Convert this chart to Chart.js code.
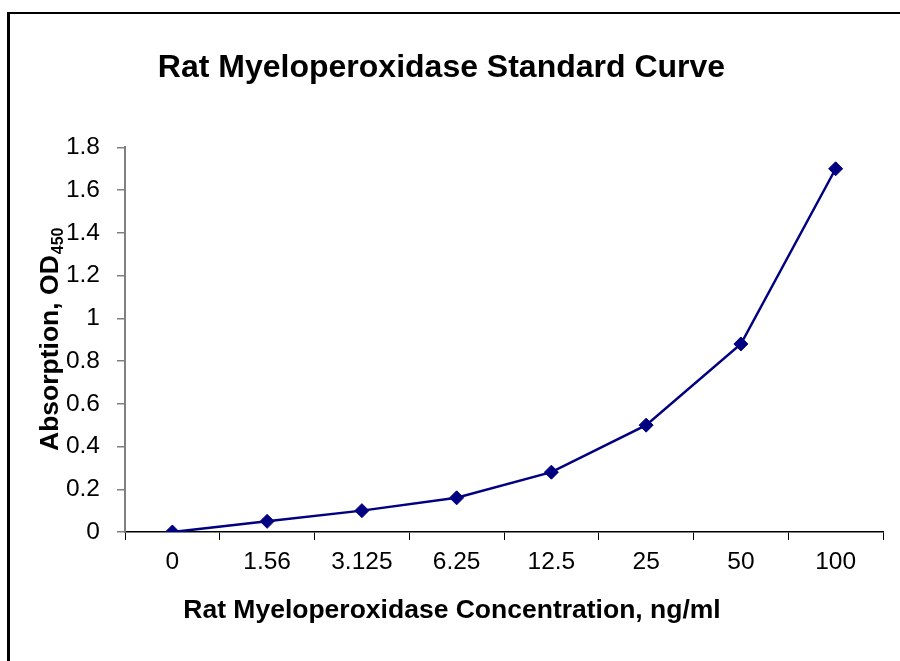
<!DOCTYPE html>
<html>
<head>
<meta charset="utf-8">
<script src="https://cdn.jsdelivr.net/npm/chart.js@4/dist/chart.umd.min.js"></script>
<style>
    html, body { margin: 0; padding: 0; background: #fff; overflow: hidden; }
    #wrap { position: relative; width: 900px; height: 661px; }
</style>
</head>
<body>
<div id="wrap">
    <canvas id="curveChart"></canvas>
</div>
<script>
// Dados da curva padrão
const concentrations = ['0', '1.56', '3.125', '6.25', '12.5', '25', '50', '100'];
const absorbance = [0, 0.05, 0.10, 0.16, 0.28, 0.50, 0.88, 1.70];
const yTicks = [0, 0.2, 0.4, 0.6, 0.8, 1, 1.2, 1.4, 1.6, 1.8];

const chartTitle = 'Rat Myeloperoxidase Standard Curve';
const xTitle = 'Rat Myeloperoxidase Concentration, ng/ml';
const yTitle = 'Absorption, OD';
const yTitleSub = '450';

const FONT = '"Liberation Sans", Arial, sans-serif';

// Moldura: só as bordas esquerda e superior cabem na imagem
const framePlugin = {
    id: 'frame',
    beforeDraw(chart) {
        const ctx = chart.ctx;
        ctx.save();
        ctx.fillStyle = '#fff';
        ctx.fillRect(0, 0, chart.width, chart.height);
        ctx.fillStyle = '#000';
        ctx.fillRect(7, 12, chart.width - 7, 2);
        ctx.fillRect(7, 12, 3, chart.height - 12);
        ctx.restore();
    }
};

// Títulos dos eixos desenhados à mão: o do Y tem subscrito e o do X
// fica centrado na moldura, não no eixo
const axisTitlesPlugin = {
    id: 'axisTitles',
    afterDraw(chart) {
        const ctx = chart.ctx;
        ctx.save();
        ctx.fillStyle = '#000';

        ctx.font = 'bold 26.5px ' + FONT;
        ctx.textAlign = 'center';
        ctx.textBaseline = 'middle';
        ctx.fillText(xTitle, 452, 611);

        ctx.translate(58, 451);
        ctx.rotate(-Math.PI / 2);
        ctx.textBaseline = 'alphabetic';
        ctx.textAlign = 'left';
        ctx.fillText(yTitle, 0, 0);
        const w = ctx.measureText(yTitle).width;
        ctx.font = 'bold 16px ' + FONT;
        ctx.fillText(yTitleSub, w + 1, 5);
        ctx.restore();
    }
};

new Chart(document.getElementById('curveChart'), {
    type: 'line',
    data: {
        labels: concentrations,
        datasets: [{
            data: absorbance,
            borderColor: '#000080',
            backgroundColor: '#000080',
            borderWidth: 2.5,
            pointStyle: 'rectRot',
            pointRadius: 7,
            pointBorderWidth: 1,
            tension: 0,
            fill: false,
        }]
    },
    options: {
        responsive: true,
        maintainAspectRatio: false,
        animation: false,
        layout: { padding: { left: 0, right: 17, top: 0, bottom: 0 } },
        scales: {
            x: {
                type: 'category',
                offset: true,
                afterFit(scale) { scale.height = 129; },
                grid: { offset: true, drawOnChartArea: false, tickLength: 8, color: '#000', lineWidth: 1 },
                border: { color: '#000', width: 1.5 },
                ticks: { color: '#000', font: { family: FONT, size: 24.5 }, padding: 8, maxRotation: 0 }
            },
            y: {
                min: 0,
                max: 1.8,
                afterFit(scale) { scale.width = 125; },
                afterBuildTicks(scale) { scale.ticks = yTicks.map(v => ({ value: v })); },
                grid: { drawOnChartArea: false, tickLength: 8, color: '#808080', lineWidth: 1.5 },
                border: { color: '#808080', width: 2 },
                ticks: {
                    color: '#000', font: { family: FONT, size: 24.5 }, padding: 17,
                    callback: v => String(Number(v.toFixed(1)))
                }
            }
        },
        plugins: {
            legend: { display: false },
            tooltip: { enabled: false },
            title: {
                display: true, text: chartTitle, color: '#000',
                font: { family: FONT, size: 32, weight: 'bold' },
                padding: { top: 49, bottom: 60 }
            }
        }
    },
    plugins: [framePlugin, axisTitlesPlugin]
});
</script>
</body>
</html>
